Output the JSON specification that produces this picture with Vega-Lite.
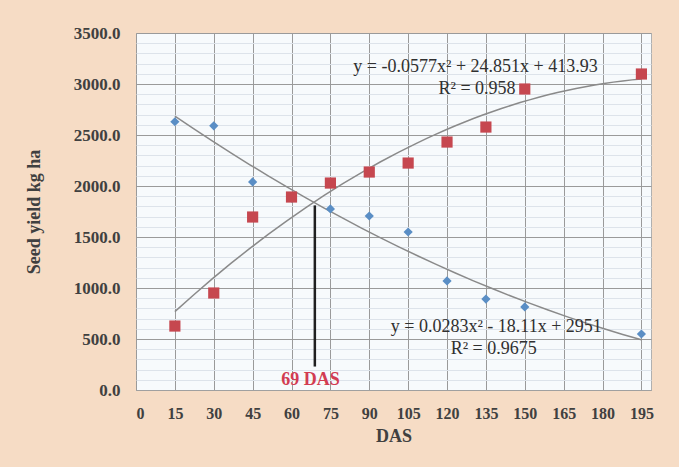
{
  "$schema": "https://vega.github.io/schema/vega-lite/v6.json",
  "width": 515,
  "height": 357,
  "autosize": "none",
  "padding": {"left": 136, "top": 33, "right": 28, "bottom": 77},
  "background": "#f6dcc5",
  "config": {
    "view": {"fill": "#f7fafc", "stroke": "#b0b0b0"},
    "font": "Liberation Serif"
  },
  "datasets": {
    "pts": [
      {"DAS": 15, "series": "B", "yield": 2630},
      {"DAS": 30, "series": "B", "yield": 2590},
      {"DAS": 45, "series": "B", "yield": 2040},
      {"DAS": 60, "series": "B", "yield": 1880},
      {"DAS": 75, "series": "B", "yield": 1775},
      {"DAS": 90, "series": "B", "yield": 1706},
      {"DAS": 105, "series": "B", "yield": 1549},
      {"DAS": 120, "series": "B", "yield": 1069},
      {"DAS": 135, "series": "B", "yield": 892},
      {"DAS": 150, "series": "B", "yield": 814},
      {"DAS": 195, "series": "B", "yield": 549},
      {"DAS": 15, "series": "R", "yield": 627},
      {"DAS": 30, "series": "R", "yield": 951},
      {"DAS": 45, "series": "R", "yield": 1696},
      {"DAS": 60, "series": "R", "yield": 1892},
      {"DAS": 75, "series": "R", "yield": 2029},
      {"DAS": 90, "series": "R", "yield": 2137},
      {"DAS": 105, "series": "R", "yield": 2225},
      {"DAS": 120, "series": "R", "yield": 2431},
      {"DAS": 135, "series": "R", "yield": 2578},
      {"DAS": 150, "series": "R", "yield": 2951},
      {"DAS": 195, "series": "R", "yield": 3098}
    ],
    "notes": [
      {"DAS": 131, "yield": 3167, "label": "y = -0.0577x² + 24.851x + 413.93"},
      {"DAS": 131.6, "yield": 2951, "label": "R² = 0.958"},
      {"DAS": 139, "yield": 618, "label": "y = 0.0283x² - 18.11x + 2951"},
      {"DAS": 138, "yield": 400, "label": "R² = 0.9675"}
    ]
  },
  "encoding": {
    "x": {
      "field": "DAS", "type": "quantitative",
      "scale": {"domain": [0, 198.7], "nice": false, "zero": false},
      "axis": {
        "values": [0, 15, 30, 45, 60, 75, 90, 105, 120, 135, 150, 165, 180, 195],
        "title": "DAS", "titleFont": "Liberation Serif", "titleFontSize": 18, "titleFontWeight": "bold", "titleColor": "#404040", "titlePadding": 6,
        "labelFont": "Liberation Serif", "labelFontSize": 16, "labelFontWeight": "bold", "labelColor": "#404040",
        "labelPadding": 15, "ticks": false,
        "domainColor": "#a0a0a0", "grid": true, "gridColor": "#9a9a9a", "gridWidth": 1
      }
    },
    "y": {
      "field": "yield", "type": "quantitative",
      "scale": {"domain": [0, 3500], "nice": false},
      "axis": {
        "values": [0,100,200,300,400,500,600,700,800,900,1000,1100,1200,1300,1400,1500,1600,1700,1800,1900,2000,2100,2200,2300,2400,2500,2600,2700,2800,2900,3000,3100,3200,3300,3400,3500],
        "labelExpr": "datum.value % 500 === 0 ? format(datum.value, '.1f') : ''",
        "title": "Seed yield kg ha", "titleFont": "Liberation Serif", "titleFontSize": 18, "titleFontWeight": "bold", "titleColor": "#404040", "titlePadding": 30,
        "labelFont": "Liberation Serif", "labelFontSize": 17, "labelFontWeight": "bold", "labelColor": "#404040",
        "labelPadding": 16, "ticks": false, "domain": false,
        "grid": true,
        "gridColor": {"condition": {"test": "datum.value % 500 === 0", "value": "#9a9a9a"}, "value": "#dde3ea"},
        "gridWidth": 1
      }
    }
  },
  "layer": [
    {
      "data": {"name": "pts"},
      "transform": [
        {"regression": "yield", "on": "DAS", "groupby": ["series"], "method": "poly", "order": 2, "extent": [15, 195]}
      ],
      "mark": {"type": "line", "color": "#8a8a8a", "strokeWidth": 1.5},
      "encoding": {"detail": {"field": "series"}}
    },
    {
      "data": {"name": "pts"},
      "transform": [{"filter": "datum.series === 'B'"}],
      "mark": {"type": "point", "shape": "diamond", "filled": true, "size": 85, "color": "#5a8ec5", "opacity": 1}
    },
    {
      "data": {"name": "pts"},
      "transform": [{"filter": "datum.series === 'R'"}],
      "mark": {"type": "point", "shape": "square", "filled": true, "size": 125, "color": "#c6474f", "opacity": 1}
    },
    {
      "data": {"values": [{"DAS": 69, "yield": 230, "y2": 1810}]},
      "mark": {"type": "rule", "color": "#202020", "strokeWidth": 2.5},
      "encoding": {"y2": {"field": "y2"}}
    },
    {
      "data": {"values": [{"DAS": 67.3, "yield": 98, "label": "69 DAS"}]},
      "mark": {"type": "text", "font": "Liberation Serif", "fontSize": 18, "fontWeight": "bold", "color": "#d23c52"},
      "encoding": {"text": {"field": "label"}}
    },
    {
      "data": {"name": "notes"},
      "mark": {"type": "text", "font": "Liberation Serif", "fontSize": 18, "color": "#303030"},
      "encoding": {"text": {"field": "label"}}
    }
  ]
}
